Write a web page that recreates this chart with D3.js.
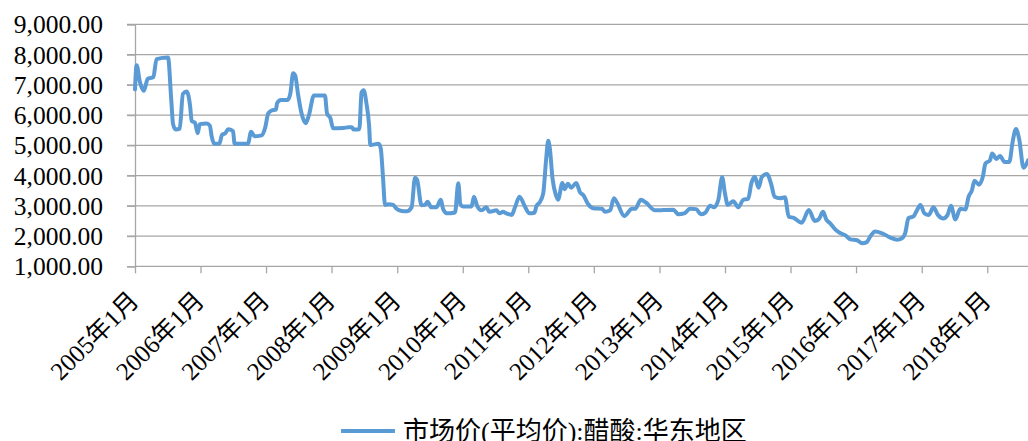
<!DOCTYPE html>
<html>
<head>
<meta charset="utf-8">
<script src="https://cdn.jsdelivr.net/npm/d3@7"></script>
<style>
	body { margin: 0; background: #fff; }
	svg { display: block; }
</style>
</head>
<body>
<div id="chart"></div>
<script>
// acetic acid price, east china
var seriesName = "市场价(平均价):醋酸:华东地区";

var dates = [
	"2005-01-01", "2005-01-10", "2005-01-28", "2005-02-19", "2005-03-13", "2005-04-13", "2005-05-01", "2005-07-04", "2005-07-22", "2005-08-01", "2005-08-16", "2005-09-07", "2005-09-25", "2005-10-16", "2005-11-04", "2005-11-13", "2005-12-01", "2005-12-16", "2005-12-28",
	"2006-02-04", "2006-02-22", "2006-03-04", "2006-03-19", "2006-04-16", "2006-05-01", "2006-05-19", "2006-06-04", "2006-07-01", "2006-07-10", "2006-09-22", "2006-10-10", "2006-10-28", "2006-12-07", "2006-12-28",
	"2007-01-13", "2007-02-01", "2007-02-25", "2007-03-04", "2007-03-25", "2007-05-01", "2007-05-16", "2007-06-01", "2007-06-13", "2007-06-28", "2007-07-16", "2007-08-10", "2007-08-28", "2007-09-25", "2007-11-25", "2007-12-07", "2007-12-25",
	"2008-01-10", "2008-03-07", "2008-04-04", "2008-04-22", "2008-05-04", "2008-06-04", "2008-06-16", "2008-06-28", "2008-07-13", "2008-07-28", "2008-08-04", "2008-09-19", "2008-10-01", "2008-10-13", "2008-10-25", "2008-11-13", "2008-12-10", "2008-12-28",
	"2009-01-25", "2009-02-22", "2009-03-22", "2009-04-10", "2009-04-22", "2009-05-16", "2009-06-04", "2009-06-19", "2009-07-10", "2009-08-07", "2009-09-01", "2009-09-13", "2009-10-04", "2009-11-19", "2009-12-07", "2009-12-19",
	"2010-01-04", "2010-02-19", "2010-03-04", "2010-03-22", "2010-04-16", "2010-05-13", "2010-05-28", "2010-06-19", "2010-07-07", "2010-07-25", "2010-08-13", "2010-09-01", "2010-10-01", "2010-10-19", "2010-11-13", "2010-12-13",
	"2011-01-07", "2011-02-04", "2011-02-16", "2011-03-04", "2011-03-25", "2011-04-10", "2011-04-22", "2011-05-01", "2011-05-16", "2011-06-04", "2011-06-16", "2011-07-10", "2011-07-22", "2011-08-10", "2011-08-28", "2011-09-25", "2011-10-16", "2011-11-04", "2011-12-01", "2011-12-28",
	"2012-02-16", "2012-03-04", "2012-04-01", "2012-04-22", "2012-05-10", "2012-06-19", "2012-08-01", "2012-08-19", "2012-09-19", "2012-10-19", "2012-12-07",
	"2013-01-25", "2013-03-19", "2013-04-16", "2013-05-22", "2013-06-19", "2013-07-25", "2013-08-19", "2013-09-13", "2013-10-10", "2013-11-01", "2013-11-25", "2013-12-16",
	"2014-01-01", "2014-01-16", "2014-02-16", "2014-03-16", "2014-04-13", "2014-05-10", "2014-05-28", "2014-06-16", "2014-07-07", "2014-07-25", "2014-08-22", "2014-09-16", "2014-10-04", "2014-11-04", "2014-12-01", "2014-12-22",
	"2015-01-19", "2015-03-04", "2015-04-13", "2015-05-16", "2015-06-07", "2015-07-01", "2015-07-19", "2015-08-10", "2015-09-07", "2015-10-04", "2015-11-01", "2015-12-01",
	"2016-01-07", "2016-02-04", "2016-03-01", "2016-03-22", "2016-04-16", "2016-05-22", "2016-07-10", "2016-08-16", "2016-09-13", "2016-10-01", "2016-10-19", "2016-11-16", "2016-12-01", "2016-12-25",
	"2017-01-16", "2017-02-10", "2017-03-07", "2017-04-01", "2017-05-01", "2017-05-25", "2017-06-13", "2017-07-07", "2017-08-04", "2017-09-01", "2017-09-19", "2017-10-07", "2017-10-22", "2017-11-16", "2017-12-07", "2017-12-22",
	"2018-01-16", "2018-01-28", "2018-02-22", "2018-03-13", "2018-04-07", "2018-05-04", "2018-05-22", "2018-06-10", "2018-06-28", "2018-07-22", "2018-08-16"
];

var prices = [
	6850, 7650, 7100, 6800, 7200, 7250, 7850, 7900, 6500, 5700, 5520, 5550, 6700, 6780, 6300, 5800, 5750, 5400, 5700,
	5720, 5650, 5300, 5050, 5050, 5350, 5400, 5530, 5470, 5050, 5050, 5450, 5300, 5330, 5600,
	6050, 6150, 6180, 6400, 6500, 6500, 6700, 7380, 7300, 6700, 6100, 5730, 6000, 6650, 6650, 6050, 5900,
	5560, 5570, 5600, 5600, 5520, 5530, 6740, 6820, 6400, 5670, 5010, 5050, 4900, 4000, 3030, 3050, 3030, 2900,
	2830, 2820, 2950, 3930, 3850, 3020, 3030, 3130, 2950, 2950, 3200, 2900, 2750, 2780, 3745, 3050,
	2980, 2980, 3300, 3000, 2850, 2950, 2800, 2830, 2850, 2750, 2800, 2750, 2700, 2950, 3300, 2980,
	2750, 2770, 3000, 3100, 3400, 4500, 5150, 4900, 3900, 3350, 3200, 3750, 3550, 3730, 3600, 3750, 3450, 3350, 3050, 2920,
	2900, 2800, 2850, 3250, 3100, 2660, 2900, 2900, 3200, 3100, 2850,
	2860, 2870, 2720, 2760, 2900, 2890, 2720, 2770, 3000, 2950, 3200, 3940,
	3400, 3030, 3150, 2950, 3200, 3230, 3750, 3960, 3600, 3950, 4050, 3700, 3300, 3250, 3280, 2640,
	2600, 2440, 2860, 2500, 2550, 2800, 2550, 2420, 2220, 2100, 2030, 1890,
	1860, 1760, 1800, 2000, 2150, 2100, 1950, 1880, 1930, 2100, 2590, 2650, 2800, 3030,
	2750, 2700, 2950, 2700, 2580, 2700, 3000, 2550, 2900, 2880, 3300, 3500, 3830, 3700, 3950, 4400,
	4500, 4730, 4550, 4650, 4450, 4450, 5100, 5540, 5200, 4260, 4500
];

var tickYears = [2005, 2006, 2007, 2008, 2009, 2010, 2011, 2012, 2013, 2014, 2015, 2016, 2017, 2018];
var yTicks = [1000, 2000, 3000, 4000, 5000, 6000, 7000, 8000, 9000];

var w = 1028,
	h = 441,
	plotLeft = 135,
	plotRight = 1028,
	plotTop = 24.3,
	plotBottom = 266.3,
	lineColor = "#5B9BD5",
	gridColor = "#a6a6a6",
	fontFamily = "'Liberation Serif', 'Times New Roman', 'Noto Sans CJK SC', serif";

var parseDate = d3.timeParse("%Y-%m-%d");
var data = dates.map(function(d, i) {
	return { date: parseDate(d), value: prices[i] };
});

var x = d3.scaleTime()
	.domain(d3.extent(data, function(d) { return d.date; }))
	.range([plotLeft, plotRight]);

var y = d3.scaleLinear()
	.domain([1000, 9000])
	.range([plotBottom, plotTop]);

var svg = d3.select("#chart")
	.append("svg")
	.attr("width", w)
	.attr("height", h)
	.style("font-family", fontFamily);

// horizontal grid
svg.append("g")
	.selectAll("line")
	.data(yTicks.slice(1))
	.enter().append("line")
	.attr("x1", plotLeft - 8)
	.attr("x2", plotRight)
	.attr("y1", function(d) { return y(d); })
	.attr("y2", function(d) { return y(d); })
	.attr("stroke", gridColor)
	.attr("stroke-width", 1.3);

// y axis
var yAxis = svg.append("g")
	.attr("transform", "translate(" + plotLeft + ",0)")
	.call(d3.axisLeft(y).tickValues(yTicks).tickFormat(d3.format(",.2f")).tickSize(8).tickPadding(24));
yAxis.select(".domain").attr("stroke", gridColor).attr("stroke-width", 1.3);
yAxis.selectAll(".tick line").attr("stroke", gridColor).attr("stroke-width", 1.3);
yAxis.selectAll("text")
	.attr("font-family", fontFamily)
	.attr("font-size", "25.5px")
	.attr("fill", "#000")
	.attr("dy", "0.34em");

// x axis
var tickDates = tickYears.map(function(yr) { return new Date(yr, 0, 1); });
var xAxis = svg.append("g")
	.attr("transform", "translate(0," + plotBottom + ")")
	.call(d3.axisBottom(x).tickValues(tickDates).tickFormat(function(d) {
		return d.getFullYear() + "年1月";
	}).tickSizeOuter(0).tickSize(7));
xAxis.select(".domain").attr("stroke", gridColor).attr("stroke-width", 1.3).attr("d", "M" + plotLeft + ",0H" + plotRight);
xAxis.selectAll(".tick line").attr("stroke", gridColor).attr("stroke-width", 1.3);
xAxis.selectAll("text")
	.attr("font-family", fontFamily)
	.attr("font-size", "25px")
	.attr("fill", "#000")
	.attr("text-anchor", "end")
	.attr("x", 0)
	.attr("y", 0)
	.attr("dy", "0.72em")
	.attr("transform", "translate(-8,23) rotate(-45)");

// price line
var line = d3.line()
	.x(function(d) { return x(d.date); })
	.y(function(d) { return y(d.value); })
	.curve(d3.curveMonotoneX);

svg.append("path")
	.datum(data)
	.attr("fill", "none")
	.attr("stroke", lineColor)
	.attr("stroke-width", 4)
	.attr("stroke-linejoin", "round")
	.attr("stroke-linecap", "round")
	.attr("d", line);

// legend
var legend = svg.append("g");
legend.append("line")
	.attr("x1", 341)
	.attr("x2", 395)
	.attr("y1", 431)
	.attr("y2", 431)
	.attr("stroke", lineColor)
	.attr("stroke-width", 4);
legend.append("text")
	.attr("x", 403)
	.attr("y", 440)
	.attr("font-size", "26px")
	.attr("fill", "#000")
	.text(seriesName);
</script>
</body>
</html>
